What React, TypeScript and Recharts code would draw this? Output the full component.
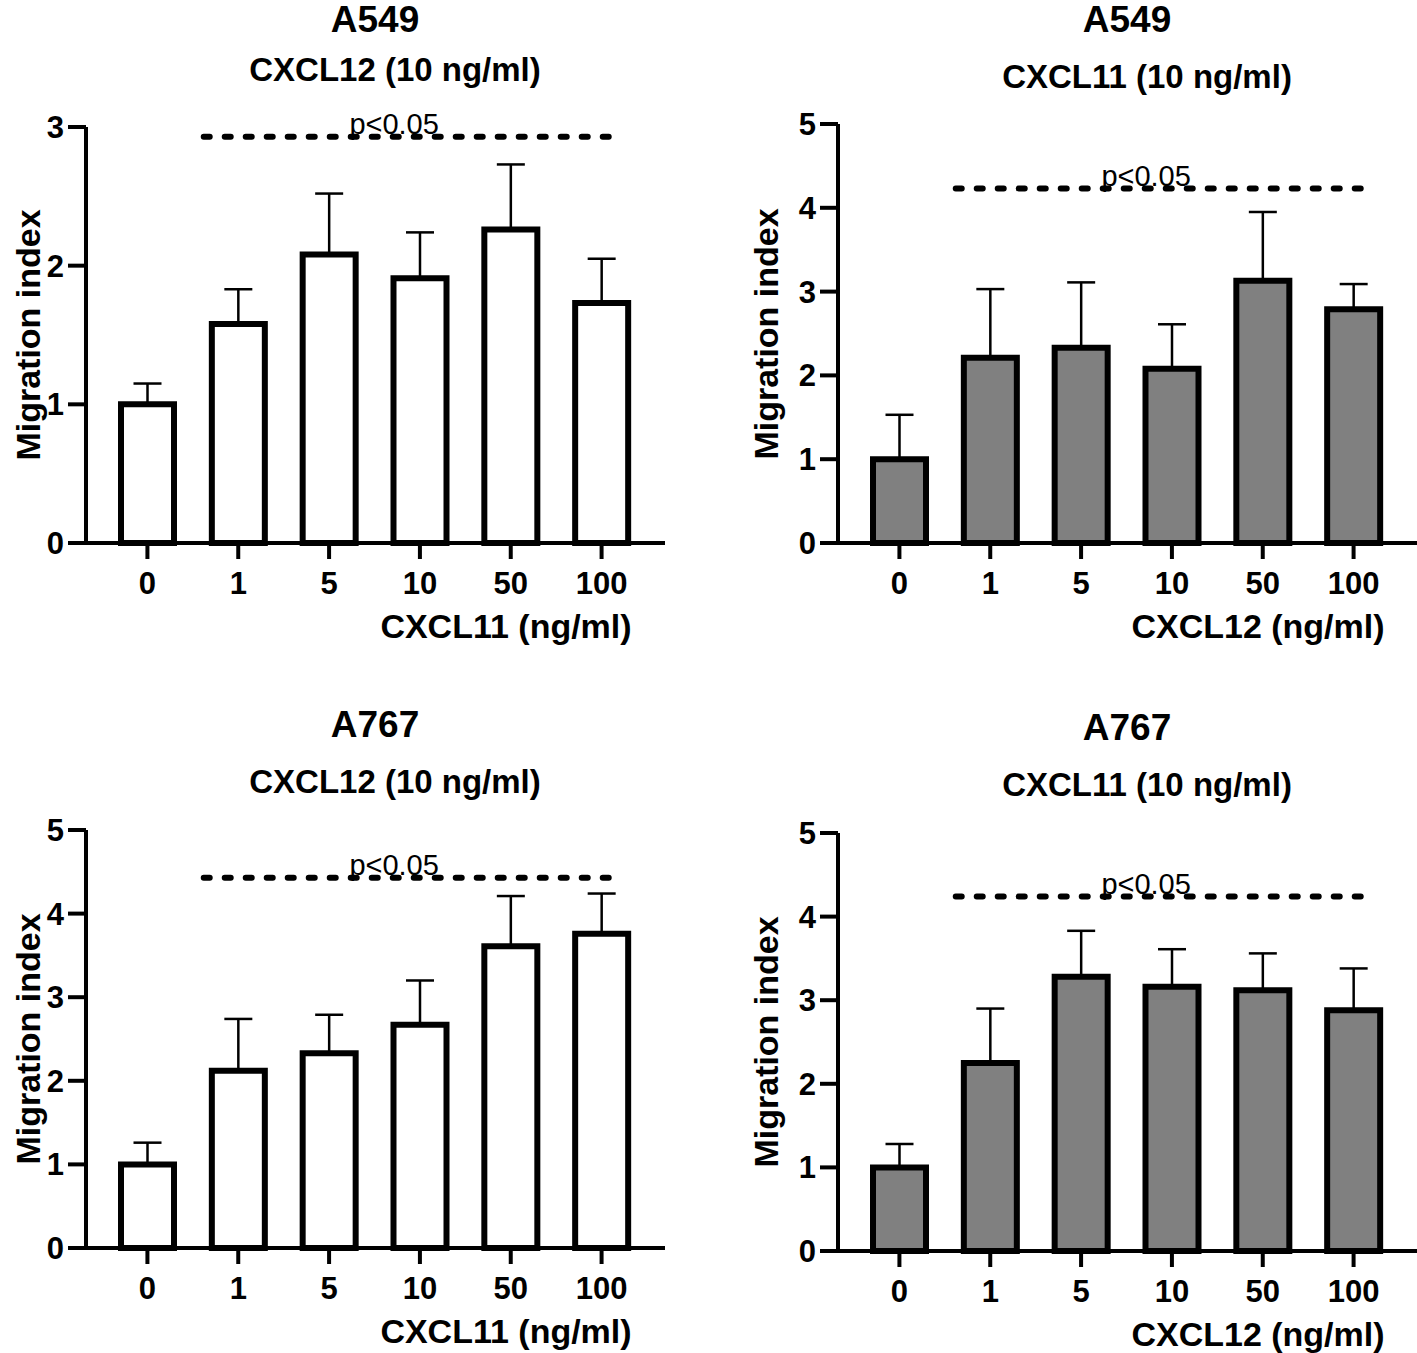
import React from 'react';
import { BarChart, Bar, XAxis, YAxis, ErrorBar, ReferenceLine } from 'recharts';

// x categories (ng/ml) shared by every panel
const doses = ['0', '1', '5', '10', '50', '100'];

// A549, CXCL12 fixed, CXCL11 titrated
const a549Cxcl11Mean = [1.0, 1.58, 2.08, 1.91, 2.26, 1.73];
const a549Cxcl11Sd = [0.15, 0.25, 0.44, 0.33, 0.47, 0.32];

// A549, CXCL11 fixed, CXCL12 titrated
const a549Cxcl12Mean = [1.0, 2.21, 2.33, 2.08, 3.13, 2.79];
const a549Cxcl12Sd = [0.53, 0.82, 0.78, 0.53, 0.82, 0.3];

// A767, CXCL12 fixed, CXCL11 titrated
const a767Cxcl11Mean = [1.0, 2.12, 2.33, 2.67, 3.61, 3.76];
const a767Cxcl11Sd = [0.26, 0.62, 0.46, 0.53, 0.6, 0.48];

// A767, CXCL11 fixed, CXCL12 titrated
const a767Cxcl12Mean = [1.0, 2.25, 3.28, 3.16, 3.12, 2.88];
const a767Cxcl12Sd = [0.28, 0.65, 0.55, 0.45, 0.44, 0.5];

// significance bracket heights (y units) and span (category index units)
const sigY = [2.93, 4.23, 4.43, 4.24];
const sigFrom = 0.62;
const sigTo = 5.08;

const FONT = '"Liberation Sans", Arial, Helvetica, sans-serif';
const CHART_W = 665;
const CHART_H = 660;
const Y_AXIS_W = 86;
const X_AXIS_H = 60;
const PLOT_BOTTOM = 543;
const PAD_L = 16;
const PAD_R = 18;

type PanelProps = {
  left: number;
  top: number;
  title: string;
  subtitle: string;
  subtitleY: number;
  xLabel: string;
  yLabelX: number;
  plotTop: number;
  yMax: number;
  means: number[];
  sds: number[];
  sig: number;
  fill: string;
};

function CenterText({ x, y, size, weight = 700, rotate = false, children }: any) {
  return (
    <div
      style={{
        position: 'absolute',
        left: x,
        top: y,
        transform: `translate(-50%, -50%)${rotate ? ' rotate(-90deg)' : ''}`,
        fontFamily: FONT,
        fontSize: size,
        fontWeight: weight,
        whiteSpace: 'nowrap',
        color: '#000',
        lineHeight: 'normal',
      }}
    >
      {children}
    </div>
  );
}

function Panel(p: PanelProps) {
  const data = doses.map((d, i) => ({
    idx: i,
    dose: d,
    mean: p.means[i],
    err: [0, p.sds[i]],
  }));

  // numeric x domain so that each dose sits in its own band, like a padded category axis
  const plotW = CHART_W - Y_AXIS_W;
  const bw = (plotW - PAD_L - PAD_R) / doses.length;
  const numDomain = [-(PAD_L / bw + 0.5), (plotW - PAD_L) / bw - 0.5];
  const yTicks = Array.from({ length: p.yMax + 1 }, (_, i) => i);

  const sigLabel = (props: any) => {
    const vb = props.viewBox || {};
    return (
      <text
        x={vb.x + vb.width * 0.47}
        y={vb.y - 3}
        textAnchor="middle"
        fontFamily={FONT}
        fontSize={29}
        fill="#000"
      >
        p&lt;0.05
      </text>
    );
  };

  return (
    <div style={{ position: 'absolute', left: p.left, top: p.top, width: CHART_W, height: CHART_H }}>
      <CenterText x={375} y={20} size={37}>{p.title}</CenterText>
      <CenterText x={395} y={p.subtitleY} size={33}>{p.subtitle}</CenterText>
      <CenterText x={p.yLabelX} y={(p.plotTop + PLOT_BOTTOM) / 2} size={34} rotate>
        Migration index
      </CenterText>
      <CenterText x={506} y={626} size={34}>{p.xLabel}</CenterText>

      <BarChart
        width={CHART_W}
        height={CHART_H}
        data={data}
        margin={{ top: p.plotTop, right: 0, bottom: CHART_H - PLOT_BOTTOM - X_AXIS_H, left: 0 }}
      >
        <XAxis
          dataKey="idx"
          type="number"
          domain={numDomain}
          allowDataOverflow
          ticks={data.map((r) => r.idx)}
          tickFormatter={(v: number) => doses[v] ?? ''}
          interval={0}
          height={X_AXIS_H}
          axisLine={{ stroke: '#000', strokeWidth: 4 }}
          tickLine={{ stroke: '#000', strokeWidth: 4 }}
          tickSize={16}
          tickMargin={13}
          tick={{ fill: '#000', fontSize: 31, fontWeight: 700, fontFamily: FONT }}
        />
        <YAxis
          width={Y_AXIS_W}
          domain={[0, p.yMax]}
          ticks={yTicks}
          interval={0}
          axisLine={{ stroke: '#000', strokeWidth: 4 }}
          tickLine={{ stroke: '#000', strokeWidth: 4 }}
          tickSize={18}
          tickMargin={4}
          tick={{ fill: '#000', fontSize: 31, fontWeight: 700, fontFamily: FONT }}
        />
        <Bar
          dataKey="mean"
          fill={p.fill}
          stroke="#000"
          strokeWidth={6}
          barSize={53}
          isAnimationActive={false}
        >
          <ErrorBar dataKey="err" direction="y" width={14} stroke="#000" strokeWidth={2.5} />
        </Bar>
        <ReferenceLine
          segment={[
            { x: sigFrom, y: p.sig },
            { x: sigTo, y: p.sig },
          ]}
          stroke="#000"
          strokeWidth={6}
          strokeLinecap="round"
          strokeDasharray="6 15"
          label={sigLabel}
        />
      </BarChart>
    </div>
  );
}

export default function App() {
  return (
    <div style={{ position: 'absolute', left: 0, top: 0, width: 1417, height: 1353, background: '#fff' }}>
      <Panel
        left={0}
        top={0}
        title="A549"
        subtitle="CXCL12 (10 ng/ml)"
        subtitleY={70}
        xLabel="CXCL11 (ng/ml)"
        yLabelX={28}
        plotTop={127}
        yMax={3}
        means={a549Cxcl11Mean}
        sds={a549Cxcl11Sd}
        sig={sigY[0]}
        fill="#ffffff"
      />
      <Panel
        left={752}
        top={0}
        title="A549"
        subtitle="CXCL11 (10 ng/ml)"
        subtitleY={77}
        xLabel="CXCL12 (ng/ml)"
        yLabelX={14}
        plotTop={124}
        yMax={5}
        means={a549Cxcl12Mean}
        sds={a549Cxcl12Sd}
        sig={sigY[1]}
        fill="#808080"
      />
      <Panel
        left={0}
        top={705}
        title="A767"
        subtitle="CXCL12 (10 ng/ml)"
        subtitleY={77}
        xLabel="CXCL11 (ng/ml)"
        yLabelX={28}
        plotTop={125}
        yMax={5}
        means={a767Cxcl11Mean}
        sds={a767Cxcl11Sd}
        sig={sigY[2]}
        fill="#ffffff"
      />
      <Panel
        left={752}
        top={708}
        title="A767"
        subtitle="CXCL11 (10 ng/ml)"
        subtitleY={77}
        xLabel="CXCL12 (ng/ml)"
        yLabelX={14}
        plotTop={125}
        yMax={5}
        means={a767Cxcl12Mean}
        sds={a767Cxcl12Sd}
        sig={sigY[3]}
        fill="#808080"
      />
    </div>
  );
}
